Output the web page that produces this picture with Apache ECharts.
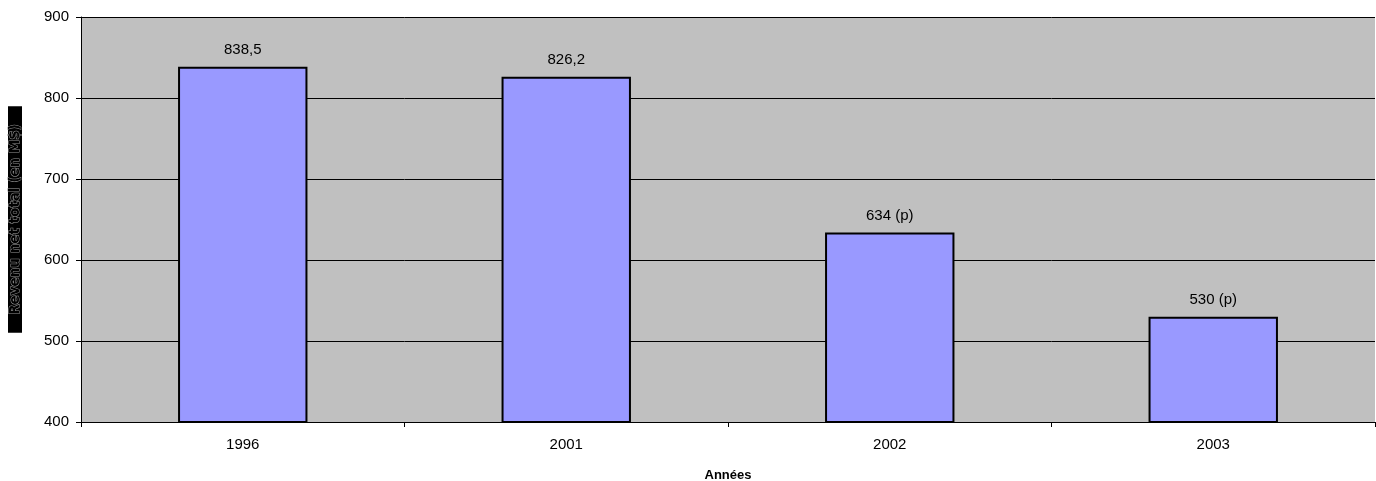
<!DOCTYPE html>
<html><head><meta charset="utf-8">
<script src="https://cdn.jsdelivr.net/npm/echarts@6/dist/echarts.min.js"></script>
<style>html,body{margin:0;padding:0;background:#fff}#c{width:1376px;height:481px}</style>
</head><body><div id="c"></div>
<script>
const categories = ['1996', '2001', '2002', '2003'];
const values = [838.5, 826.2, 634, 530];
const valueLabels = ['838,5', '826,2', '634 (p)', '530 (p)'];
const yTicks = [400, 500, 600, 700, 800, 900];

const chart = echarts.init(document.getElementById('c'));
chart.setOption({
  animation: false,
  grid: { left: 81, right: 1, top: 17, bottom: 59, outerBoundsMode: 'none', containLabel: false,
    backgroundColor: '#C0C0C0', show: true, borderWidth: 0 },
  xAxis: {
    type: 'category', data: categories,
    name: 'Années', nameLocation: 'middle', nameGap: 47,
    nameTextStyle: { fontFamily: 'Liberation Sans', fontWeight: 'bold', fontSize: 13, color: '#000' },
    axisLine: { lineStyle: { color: '#000', width: 1 } },
    axisTick: { show: true, alignWithLabel: false, length: 5, lineStyle: { color: '#000' } },
    axisLabel: { fontFamily: 'Liberation Sans', fontSize: 15, color: '#000', margin: 15 }
  },
  yAxis: {
    type: 'value', min: yTicks[0], max: yTicks[yTicks.length - 1], interval: 100,
    name: 'Revenu net total (en M$)', nameLocation: 'middle', nameGap: 59, nameRotate: 90,
    nameTextStyle: { fontFamily: 'DejaVu Sans', fontWeight: 'bold', fontSize: 13.5, lineHeight: 14, color: '#000',
      textBorderColor: '#999', textBorderWidth: 1, backgroundColor: '#000', padding: [0, 18, 0, 18] },
    axisLine: { show: true, lineStyle: { color: '#000', width: 1 } },
    axisTick: { show: true, length: 5, lineStyle: { color: '#000' } },
    axisLabel: { fontFamily: 'Liberation Sans', fontSize: 15, color: '#000', margin: 12 },
    splitLine: { show: true, lineStyle: { color: '#000', width: 1 } }
  },
  series: [{
    type: 'bar', data: values, barWidth: '40%',
    itemStyle: { color: '#9999FF', borderColor: '#000', borderWidth: 2 },
    label: { show: true, position: 'top', distance: 9, fontFamily: 'Liberation Sans', fontSize: 15, color: '#000',
      formatter: p => valueLabels[p.dataIndex] }
  }]
});
</script></body></html>
